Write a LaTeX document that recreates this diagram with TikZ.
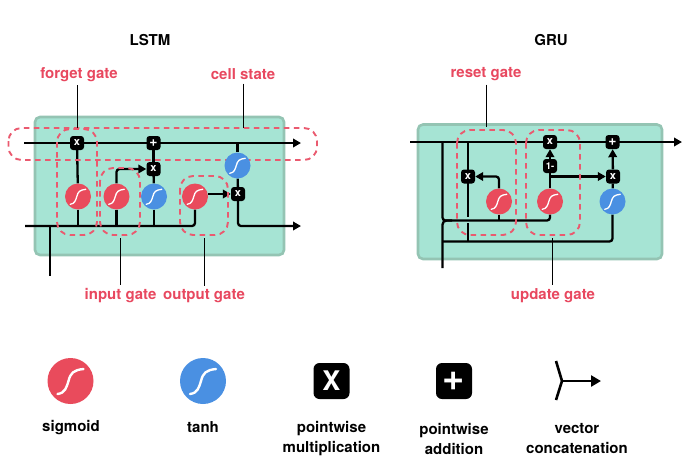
\documentclass[tikz,border=0pt]{standalone}
\usepackage{fontspec}
\setmainfont{TeX Gyre Heros}
\usetikzlibrary{arrows.meta,backgrounds}

\definecolor{sigred}{HTML}{E94B5C}
\definecolor{tanblue}{HTML}{4A90E2}
\definecolor{cellgreen}{HTML}{A6E4D4}
\definecolor{celledge}{HTML}{94C4B3}
\definecolor{gatered}{HTML}{E8485F}

\tikzset{
  wire/.style={line width=2.3pt},
  wirearrow/.style={wire,-{Triangle[length=8pt,width=8.5pt]}},
  cellbox/.style={fill=cellgreen,draw=celledge,line width=2.6pt,rounded corners=5pt},
  gatedash/.style={draw=gatered!90!white,line width=1.9pt,dash pattern=on 5.5pt off 4.5pt,rounded corners=13pt},
  leader/.style={line width=0.8pt},
  gatelabel/.style={text=gatered,font=\fontsize{15}{18}\selectfont\bfseries},
  title/.style={font=\fontsize{15}{18}\selectfont\bfseries},
  legendtext/.style={align=center,font=\fontsize{15}{20}\selectfont\bfseries},
  opnode/.style={fill=black,text=white,rounded corners=3pt,minimum size=14pt,inner sep=0pt,font=\fontsize{11}{11}\selectfont\bfseries},
  bigop/.style={fill=black,text=white,rounded corners=6pt,minimum size=36pt,inner sep=0pt,font=\fontsize{27}{27}\selectfont\bfseries},
  sigm/.style={circle,fill=sigred,minimum size=26pt,inner sep=0pt},
  tanhn/.style={circle,fill=tanblue,minimum size=26pt,inner sep=0pt},
  scurve/.style={white,line width=1.3pt,line cap=round},
}
\newcommand{\scurvepath}{(-13,13) .. controls (-5,12) and (-4,6) .. (-2,0) .. controls (0,-8) and (3,-11) .. (13,-12)}
\newcommand{\opplus}[1]{\fontsize{#1}{#1}\selectfont +}

\begin{document}
\begin{tikzpicture}[x=1pt,y=-1pt]
\useasboundingbox (0,0) rectangle (691,467);

\node[title] (lstmtitle) at (150,40) {LSTM};
\node[title] (grutitle) at (551,40) {GRU};

%%%%%%%%%%%%%%%%%%%%%%%%%%%% first cell
\node[opnode] (lmula) at (77,143) {x};
\node[opnode] (lplus) at (153.5,143) {\opplus{14}};
\node[opnode] (lmulb) at (153.5,169) {x};
\node[opnode] (lmulc) at (238,194) {x};
\node[sigm] (lsiga) at (78,196.5) {};
\node[sigm] (lsigb) at (116.5,196.5) {};
\node[tanhn] (ltana) at (154,196.5) {};
\node[sigm] (lsigc) at (195,196.5) {};
\node[tanhn] (ltanb) at (237.5,165.5) {};

\coordinate (ltop) at (24,143);
\coordinate (ltopend) at (301,143);
\coordinate (lbot) at (25,226);
\coordinate (lbotend) at (301,226);
\coordinate (lfork) at (50,226);
\coordinate (lfoot) at (50,276);

\node[gatelabel] (forgetlabel) at (79,74.5) {forget gate};
\node[gatelabel] (celllabel) at (243,74.5) {cell state};
\node[gatelabel] (inputlabel) at (120.5,295.5) {input gate};
\node[gatelabel] (outputlabel) at (204,296.5) {output gate};

\begin{scope}[on background layer]
\draw[cellbox] (35,117) rectangle (284,255);

\draw[wirearrow] (ltop) -- (ltopend);
\draw[wire,rounded corners=3pt] (lbot) -| (lsigc);
\draw[wire] (lfork) -- (lfoot);
\draw[wire] (lmula) -- (lsiga);
\draw[wire] (lsiga) -- (lsiga |- lbot);
\draw[wire] (lsigb) -- (lsigb |- lbot);
\draw[wire] (ltana) -- (ltana |- lbot);
\draw[wire] (lplus) -- (lmulb);
\draw[wire] (lmulb) -- (ltana);
\draw[wire] (ltanb |- lplus) -- (ltanb);
\draw[wire] (ltanb) -- (lmulc);
\draw[wirearrow,rounded corners=3pt] (lsigb) |- (lmulb);
\draw[wirearrow] (lsigc.east |- lmulc) -- (lmulc);
\draw[wirearrow,rounded corners=3pt] (lmulc) |- (lbotend);

\draw[gatedash] (8.5,128) rectangle (317,160);
\draw[gatedash] (57,129) rectangle (97,235);
\draw[gatedash] (100,168) rectangle (140,235);
\draw[gatedash] (180,176) rectangle (228,235);
\end{scope}

\coordinate (forgetdash) at (77,128);
\coordinate (celldash) at (243,128);
\coordinate (inputdash) at (120.5,238);
\coordinate (outputdash) at (204,238);
\draw[leader] (forgetlabel.south -| forgetdash) -- (forgetdash);
\draw[leader] (celllabel.south) -- (celldash);
\draw[leader] (inputdash) -- (inputlabel.north);
\draw[leader] (outputdash) -- (outputlabel.north);

%%%%%%%%%%%%%%%%%%%%%%%%%%%% second cell
\node[opnode] (gmula) at (468,176.5) {x};
\node[opnode] (gmulb) at (550,142) {x};
\node[opnode,font=\fontsize{9.5}{10}\selectfont\bfseries] (gone) at (550,166) {1-};
\node[opnode] (gplus) at (612.5,142) {\opplus{14}};
\node[opnode] (gmulc) at (613,176.5) {x};
\node[sigm] (gsiga) at (499,201.5) {};
\node[sigm] (gsigb) at (550,201.5) {};
\node[tanhn] (gtan) at (612.5,201.5) {};

\coordinate (gtop) at (410,142);
\coordinate (gtopend) at (682,142);
\coordinate (gleft) at (442.5,142);
\coordinate (gresetin) at (468,142);
\coordinate (gstop) at (468,217);
\coordinate (gresume) at (468,223);
\coordinate (gturn) at (550,220.5);
\coordinate (gmerge) at (452,220.5);
\coordinate (gfoot) at (442.5,268);
\coordinate (glow) at (442.5,241.5);
\coordinate (gbranch) at (550,176.5);

\node[gatelabel] (resetlabel) at (486,74.5) {reset gate};
\node[gatelabel] (updatelabel) at (553,295.5) {update gate};

\begin{scope}[on background layer]
\draw[cellbox] (418,124.5) rectangle (662,259);

\draw[wirearrow] (gtop) -- (gtopend);
\draw[wire,rounded corners=3pt] (gleft) |- (gturn) -- (gsigb);
\draw[wire,rounded corners=4pt] (gfoot) |- (gmerge);
\draw[wire,rounded corners=3pt] (glow) -| (gtan);
\draw[wire] (gresetin) -- (gstop);
\draw[wire] (gresume) -- (gresume |- glow);
\draw[wire] (gsiga) -- (gsiga |- gturn);
\draw[wirearrow,rounded corners=3pt] (gsiga) |- (gmula);
\draw[wire] (gsigb) -- (gone);
\draw[wirearrow] (gone) -- (gmulb);
\draw[wirearrow] (gbranch) -- (gmulc);
\draw[wirearrow] (gmulc) -- (gplus);
\draw[wire] (gtan) -- (gmulc);

\draw[gatedash] (457,130) rectangle (516,235);
\draw[gatedash] (526,130) rectangle (580,235);
\end{scope}

\coordinate (resetdash) at (486.5,127);
\coordinate (updatedash) at (552.5,238);
\draw[leader] (resetlabel.south -| resetdash) -- (resetdash);
\draw[leader] (updatedash) -- (updatelabel.north -| updatedash);

%%%%%%%%%%%%%%%%%%%%%%%%%%%% legend
\node[sigm,minimum size=46pt] (legsig) at (70.5,381) {};
\node[tanhn,minimum size=46pt] (legtan) at (203,381) {};
\node[bigop] (legmul) at (331.5,381) {X};
\node[bigop] (legadd) at (454,381) {\opplus{38}};

\coordinate (vecup) at (556,361);
\coordinate (vecdown) at (556,400);
\coordinate (vecjoin) at (562,381);
\coordinate (vecend) at (601,381);
\draw[wire,line width=2.6pt] (vecup) -- (vecjoin) -- (vecdown);
\draw[wire,line width=2.6pt,-{Triangle[length=10pt,width=11pt]}] (vecjoin) -- (vecend);

\node[legendtext] (sigtext) at (71,427.5) {sigmoid};
\node[legendtext] (tantext) at (203,427.5) {tanh};
\node[legendtext] (multext) at (331.5,438.5) {pointwise\\multiplication};
\node[legendtext] (addtext) at (454,438.5) {pointwise\\addition};
\node[legendtext] (vectext) at (577,438.5) {vector\\concatenation};

% white s-curve on every activation circle
\foreach \n in {lsiga,lsigb,ltana,lsigc,ltanb,gsiga,gsigb,gtan}
  \draw[scurve,shift={(\n)},scale=0.6] \scurvepath;
\foreach \n in {legsig,legtan}
  \draw[scurve,line width=2.4pt,shift={(\n)}] \scurvepath;
\end{tikzpicture}
\end{document}
